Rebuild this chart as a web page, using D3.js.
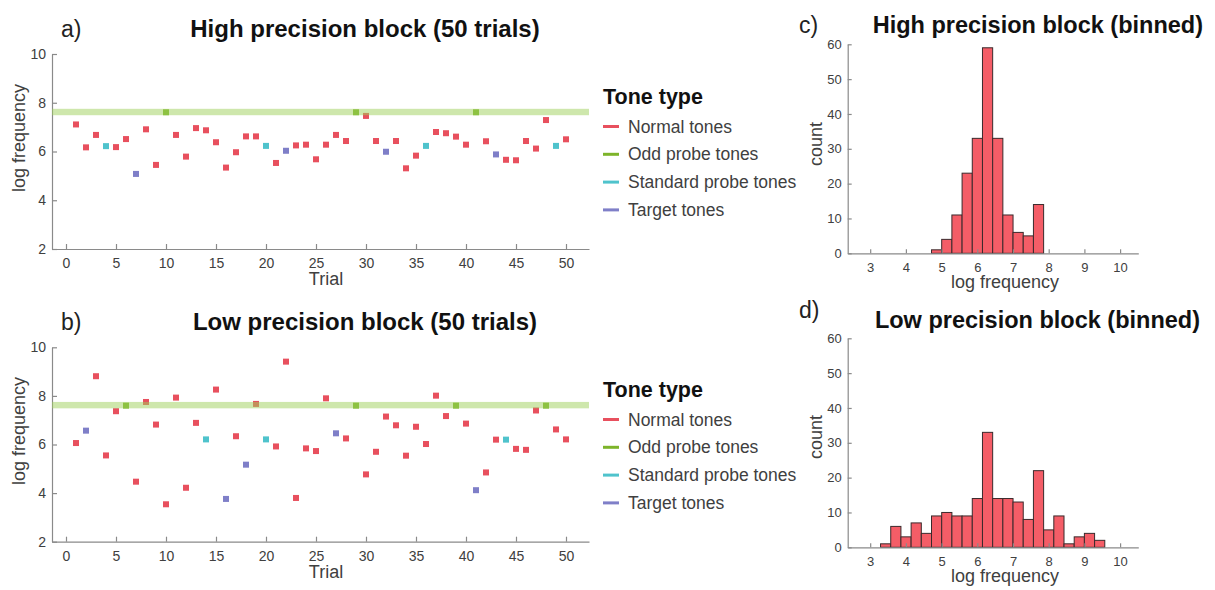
<!DOCTYPE html>
<html><head><meta charset="utf-8">
<script src="https://cdn.jsdelivr.net/npm/d3@7/dist/d3.min.js"></script>
<style>body{margin:0;background:#fff;} svg{display:block;font-family:"Liberation Sans",Arial,sans-serif;}</style>
</head><body>
<svg id="chart" width="1215" height="590"></svg>
<script>
// ---------- data ----------
const trials = d3.range(1, 51);
// tone type codes: N = normal, O = odd probe, S = standard probe, T = target
const highValues = [7.11,6.17,6.68,6.22,6.18,6.51,5.08,6.91,5.45,7.61,
  6.68,5.79,6.96,6.87,6.38,5.34,5.97,6.62,6.62,6.23,
  5.53,6.03,6.25,6.28,5.68,6.28,6.68,6.43,7.61,7.46,
  6.43,5.99,6.43,5.31,5.83,6.23,6.80,6.75,6.61,6.28,
  7.61,6.42,5.88,5.66,5.64,6.43,6.12,7.29,6.23,6.50];
const highTypes = ["N","N","N","S","N","N","T","N","N","O",
  "N","N","N","N","N","N","N","N","N","S",
  "N","T","N","N","N","N","N","N","O","N",
  "N","T","N","N","N","S","N","N","N","N",
  "O","N","T","N","N","N","N","N","S","N"];
const lowValues = [6.06,6.57,8.81,5.55,7.37,7.60,4.47,7.75,6.82,3.54,
  7.93,4.22,6.89,6.21,8.26,3.76,6.34,5.17,7.67,6.21,
  5.92,9.41,3.80,5.84,5.73,7.90,6.46,6.25,7.60,4.77,
  5.70,7.15,6.79,5.54,6.73,6.02,8.01,7.17,7.60,6.86,
  4.12,4.85,6.20,6.20,5.82,5.78,7.40,7.60,6.62,6.21];
const lowTypes = ["N","T","N","N","N","O","N","N","N","N",
  "N","N","N","S","N","T","N","T","N","S",
  "N","N","N","N","N","N","T","N","O","N",
  "N","N","N","N","N","N","N","N","O","N",
  "T","N","N","S","N","N","N","O","N","N"];
const oddProbeLevel = 7.62;
const toneTypes = ["N","O","S","T"];
const toneLabels = ["Normal tones","Odd probe tones","Standard probe tones","Target tones"];
const toneColors = ["#e8505e","#7db42a","#4fc3cc","#7f7fc8"];

const binStart = 3.29, binWidth = 0.2855;
const countsHigh = [0,0,0,0,0,1,4,11,23,33,59,33,11,6,5,14,0,0,0,0,0,0];
const countsLow  = [1,6,3,7,4,9,10,9,9,14,33,14,14,13,8,22,5,9,1,3,4,2];

const scatterXTicks = [0,5,10,15,20,25,30,35,40,45,50];
const scatterYTicks = [2,4,6,8,10];
const histXTicks = [3,4,5,6,7,8,9,10];
const histYTicks = [0,10,20,30,40,50,60];

// ---------- drawing ----------
const svg = d3.select("#chart");
const axisCol = "#8a8a8a", textCol = "#404040";
const color = d3.scaleOrdinal().domain(toneTypes).range(toneColors);

function styleAxis(g, fs){
  g.select(".domain").attr("stroke", axisCol).attr("stroke-width", 1.2);
  g.selectAll(".tick line").attr("stroke", axisCol).attr("stroke-width", 1.2);
  g.selectAll(".tick text").attr("fill", textCol).attr("font-size", fs)
    .attr("font-family", "'Liberation Sans', Arial, sans-serif");
}

function scatterPanel(opt){
  const x = d3.scaleLinear().domain([-1.4, 52.3]).range([52, 589]);
  const y = d3.scaleLinear().domain([2, 10]).range([opt.y0, opt.y1]);
  const g = svg.append("g");
  const gx = g.append("g").attr("transform", `translate(0,${opt.y0})`)
    .call(d3.axisBottom(x).tickValues(scatterXTicks).tickSizeInner(-5).tickSizeOuter(0).tickPadding(9));
  styleAxis(gx, 14);
  const gy = g.append("g").attr("transform", `translate(52,0)`)
    .call(d3.axisLeft(y).tickValues(scatterYTicks).tickSizeInner(-5).tickSizeOuter(0).tickPadding(6));
  styleAxis(gy, 14);
  const pts = trials.map((t,i)=>({t, v:opt.values[i], k:opt.types[i]}));
  g.selectAll("rect.pt").data(pts).enter().append("rect")
    .attr("x", d=>x(d.t)-3).attr("y", d=>y(d.v)-3)
    .attr("width", 6).attr("height", 6)
    .attr("fill", d=>color(d.k));
  g.append("rect").attr("x", 52).attr("width", 589-52)
    .attr("y", y(oddProbeLevel)-3.2).attr("height", 6.4)
    .attr("fill", "#9ed05a").attr("opacity", 0.5);
  g.append("text").attr("x", 326).attr("y", opt.y0+36).attr("text-anchor","middle")
    .attr("font-size", 18).attr("fill", textCol).text("Trial");
  g.append("text").attr("transform", `translate(25,${opt.ylabY}) rotate(-90)`)
    .attr("text-anchor","middle").attr("font-size", 18).attr("fill", textCol).text("log frequency");
  g.append("text").attr("x", 61).attr("y", opt.titleY).attr("font-size", 23).attr("fill", "#222").text(opt.letter);
  g.append("text").attr("x", 365).attr("y", opt.titleY).attr("text-anchor","middle")
    .attr("font-size", 24).attr("font-weight","bold").attr("fill", "#111").text(opt.title);
  const lg = g.append("g").attr("transform", `translate(603,${opt.legY})`);
  lg.append("text").attr("x", 0).attr("y", 0).attr("font-size", 21.5).attr("font-weight","bold")
    .attr("fill","#111").text("Tone type");
  toneTypes.forEach((k,i)=>{
    const yy = 28.5 + i*27.8;
    lg.append("line").attr("x1",0).attr("x2",16).attr("y1",yy-6).attr("y2",yy-6)
      .attr("stroke", color(k)).attr("stroke-width", 3);
    lg.append("text").attr("x", 25).attr("y", yy).attr("font-size", 17.5).attr("fill", textCol).text(toneLabels[i]);
  });
}

function histPanel(opt){
  const x = d3.scaleLinear().domain([2.37, 10.51]).range([847.7, 1138.3]);
  const y = d3.scaleLinear().domain([0, 60]).range([opt.y0, opt.y1]);
  const g = svg.append("g");
  const bins = opt.counts.map((c,i)=>({x0: binStart + i*binWidth, x1: binStart + (i+1)*binWidth, c}))
    .filter(d=>d.c>0);
  g.selectAll("rect.bar").data(bins).enter().append("rect")
    .attr("x", d=>x(d.x0)).attr("width", d=>x(d.x1)-x(d.x0))
    .attr("y", d=>y(d.c)).attr("height", d=>y(0)-y(d.c))
    .attr("fill", "#f45d67").attr("stroke", "#3a2a2c").attr("stroke-width", 1);
  const gx = g.append("g").attr("transform", `translate(0,${opt.y0})`)
    .call(d3.axisBottom(x).tickValues(histXTicks).tickSizeInner(-4).tickSizeOuter(0).tickPadding(9));
  styleAxis(gx, 13);
  const gy = g.append("g").attr("transform", `translate(847.7,0)`)
    .call(d3.axisLeft(y).tickValues(histYTicks).tickSizeInner(-4).tickSizeOuter(0).tickPadding(6));
  styleAxis(gy, 13);
  g.append("text").attr("x", 1005).attr("y", opt.y0+35).attr("text-anchor","middle")
    .attr("font-size", 18).attr("fill", textCol).text("log frequency");
  g.append("text").attr("transform", `translate(822,${opt.ylabY}) rotate(-90)`)
    .attr("text-anchor","middle").attr("font-size", 18).attr("fill", textCol).text("count");
  g.append("text").attr("x", 799).attr("y", opt.letterY).attr("font-size", 23).attr("fill", "#222").text(opt.letter);
  g.append("text").attr("x", opt.titleX).attr("y", opt.titleY).attr("text-anchor","end")
    .attr("font-size", 23.5).attr("font-weight","bold").attr("fill", "#111").text(opt.title);
}

scatterPanel({y0:249, y1:54, values:highValues, types:highTypes, ylabY:138, titleY:37,
  letter:"a)", title:"High precision block (50 trials)", legY:104});
scatterPanel({y0:541.7, y1:347.3, values:lowValues, types:lowTypes, ylabY:431, titleY:330,
  letter:"b)", title:"Low precision block (50 trials)", legY:397});
histPanel({y0:253.3, y1:44.3, counts:countsHigh, ylabY:144, letter:"c)", letterY:33,
  title:"High precision block (binned)", titleX:1203, titleY:33});
histPanel({y0:547.3, y1:338.3, counts:countsLow, ylabY:437, letter:"d)", letterY:318,
  title:"Low precision block (binned)", titleX:1200, titleY:328});
</script>
</body></html>
